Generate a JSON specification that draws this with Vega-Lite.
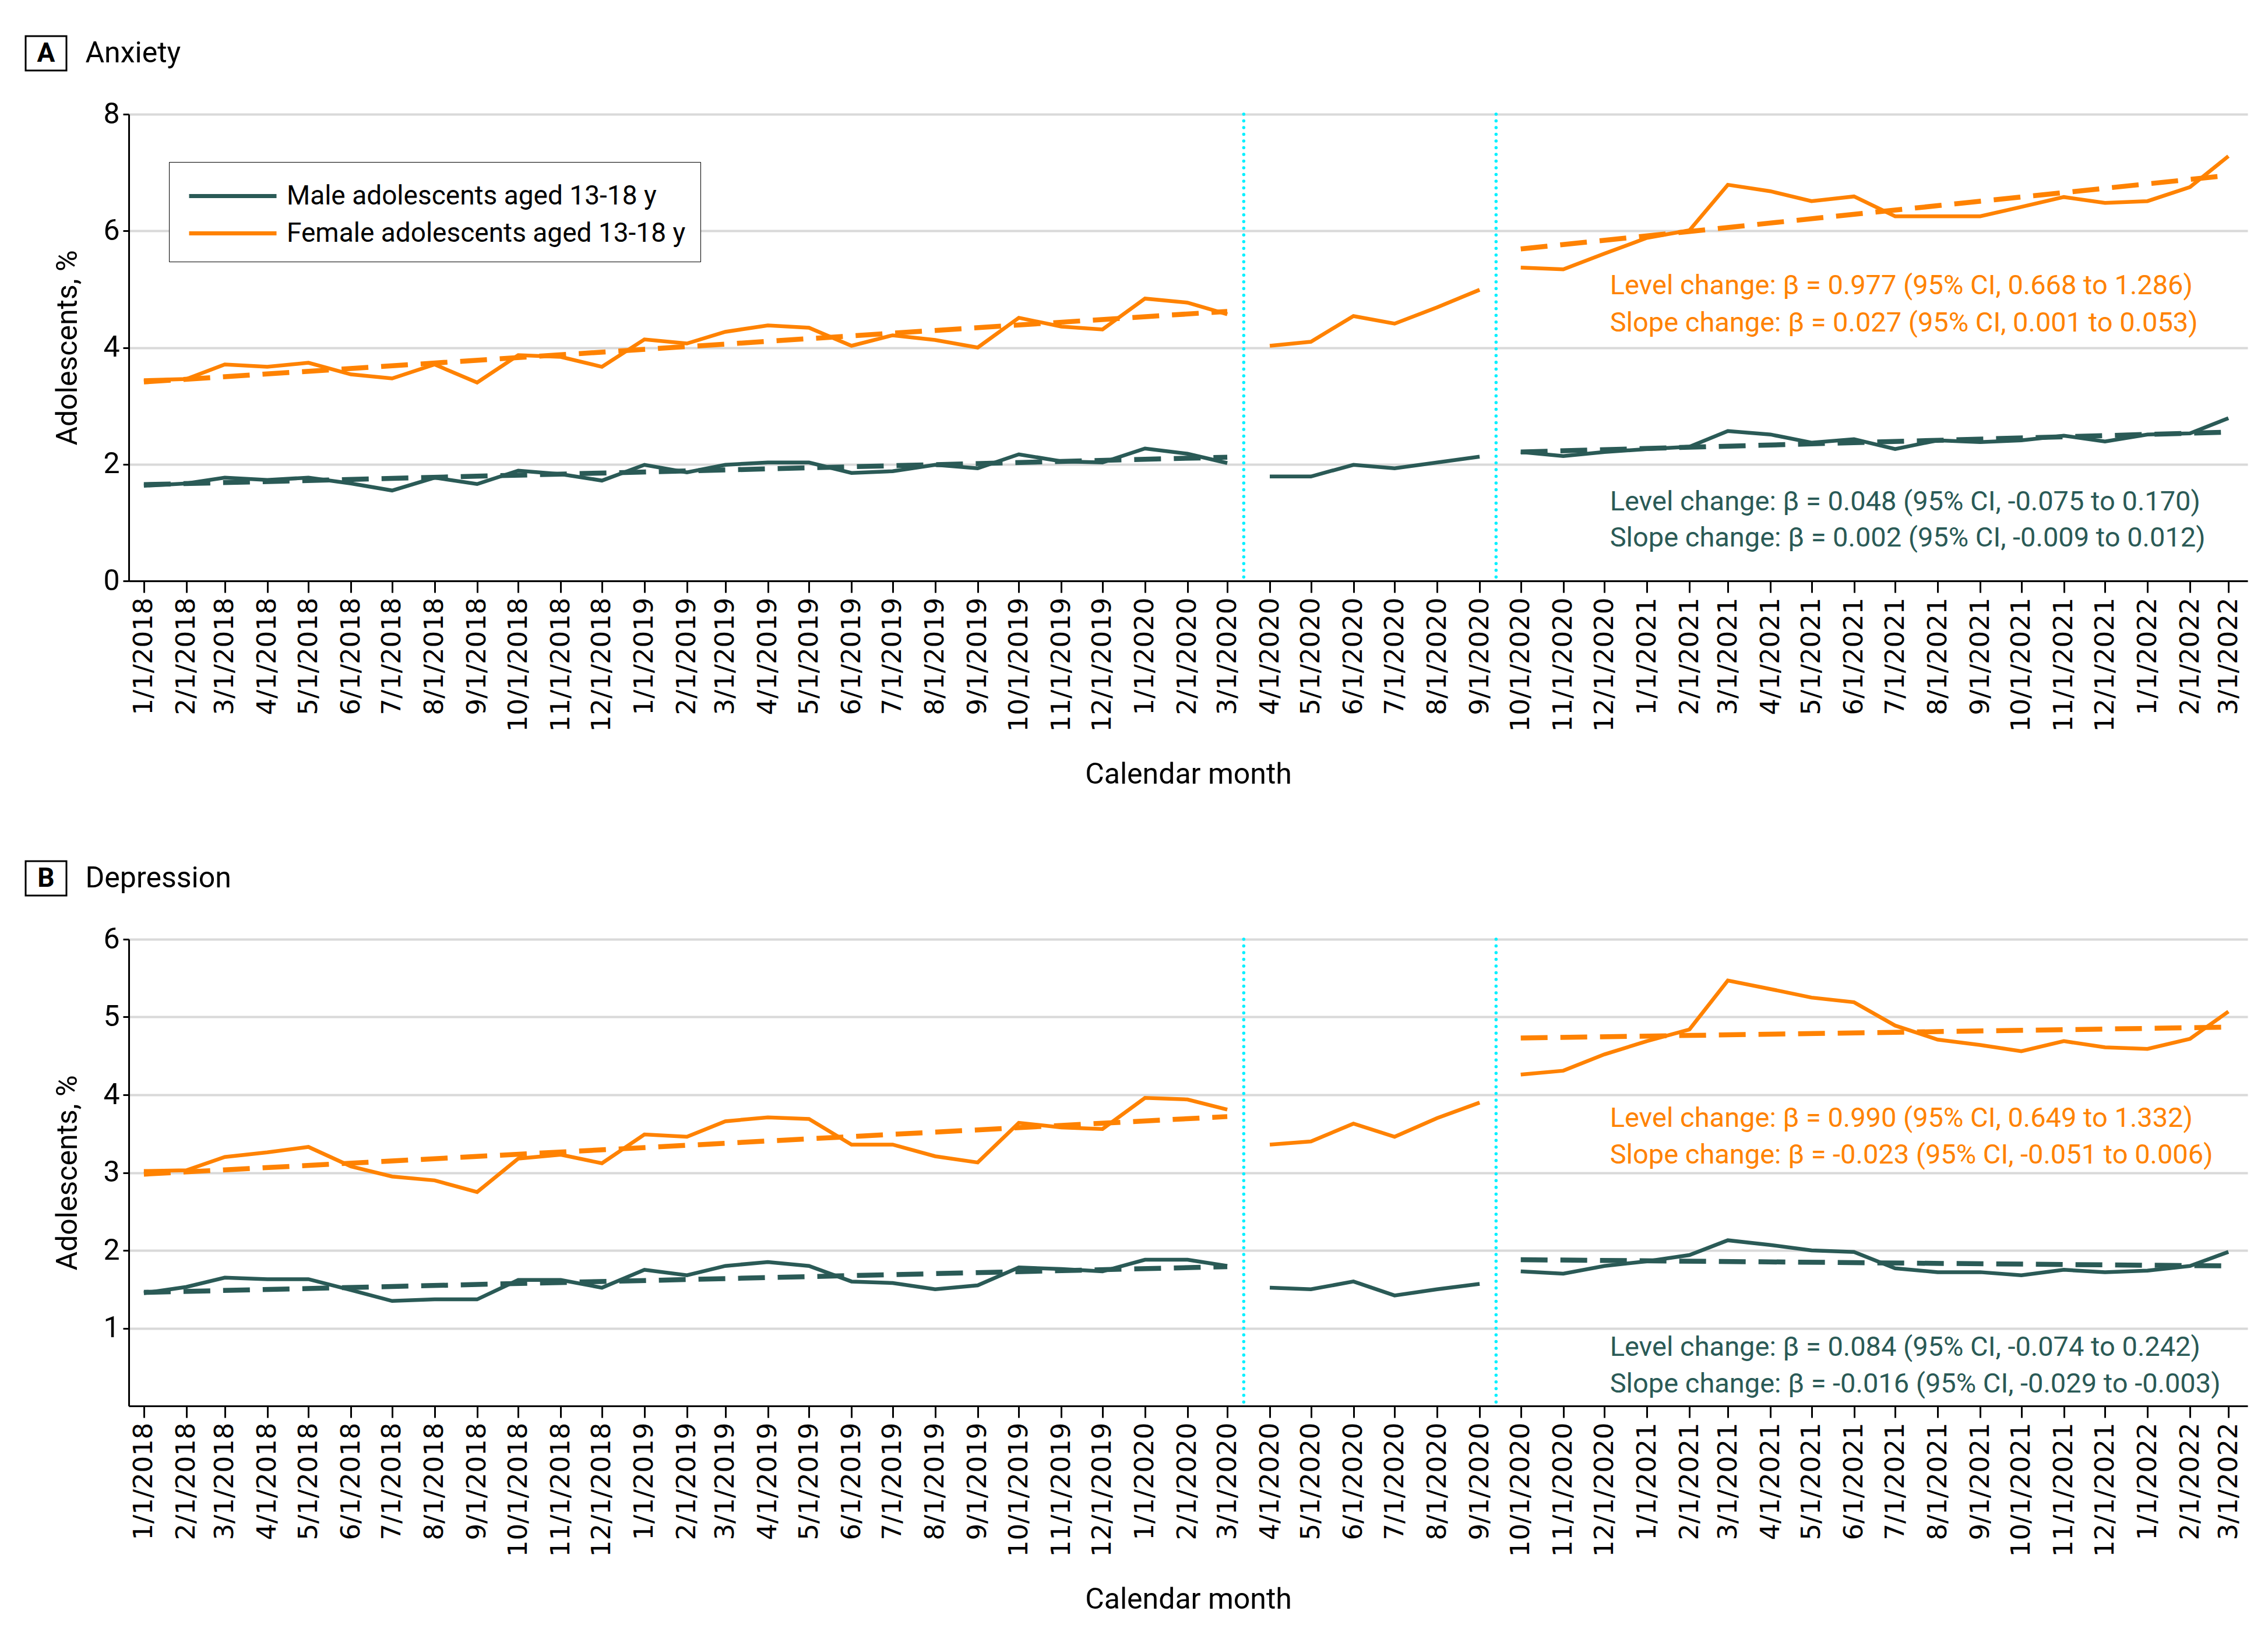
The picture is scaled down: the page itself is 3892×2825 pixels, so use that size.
{
  "$schema": "https://vega.github.io/schema/vega-lite/v6.json",
  "background": "white",
  "padding": {"left": 42, "top": 60, "right": 40, "bottom": 40},
  "config": {
    "view": {"stroke": null},
    "font": "Roboto",
    "axis": {
      "domainColor": "black", "domainWidth": 3, "tickColor": "black", "tickWidth": 3,
      "labelColor": "black", "titleColor": "black", "titleFontWeight": "normal",
      "labelFont": "Roboto", "titleFont": "Roboto",
      "titleFontSize": 50, "labelFontSize": 50, "labelLimit": 1000
    },
    "axisX": {
      "grid": false, "tickSize": 20, "labelFont": "DejaVu Sans", "labelFontSize": 45,
      "labelAngle": 270, "labelPadding": 8, "titlePadding": 107, "labelOverlap": false, "labelFlush": false
    },
    "axisY": {"grid": true, "gridColor": "#d9d9d9", "gridWidth": 4, "tickSize": 10, "labelPadding": 6, "titlePadding": 35},
    "text": {"font": "Roboto", "color": "black"}
  },
  "datasets": {
    "anxiety": [
      {"month": "2018-01-01", "period": "pre", "male": 1.63, "female": 3.44},
      {"month": "2018-02-01", "period": "pre", "male": 1.67, "female": 3.46},
      {"month": "2018-03-01", "period": "pre", "male": 1.77, "female": 3.71},
      {"month": "2018-04-01", "period": "pre", "male": 1.73, "female": 3.67},
      {"month": "2018-05-01", "period": "pre", "male": 1.77, "female": 3.74},
      {"month": "2018-06-01", "period": "pre", "male": 1.67, "female": 3.54},
      {"month": "2018-07-01", "period": "pre", "male": 1.55, "female": 3.47},
      {"month": "2018-08-01", "period": "pre", "male": 1.77, "female": 3.71},
      {"month": "2018-09-01", "period": "pre", "male": 1.66, "female": 3.40},
      {"month": "2018-10-01", "period": "pre", "male": 1.89, "female": 3.87},
      {"month": "2018-11-01", "period": "pre", "male": 1.83, "female": 3.84},
      {"month": "2018-12-01", "period": "pre", "male": 1.72, "female": 3.67},
      {"month": "2019-01-01", "period": "pre", "male": 1.99, "female": 4.14},
      {"month": "2019-02-01", "period": "pre", "male": 1.86, "female": 4.07},
      {"month": "2019-03-01", "period": "pre", "male": 1.99, "female": 4.27},
      {"month": "2019-04-01", "period": "pre", "male": 2.03, "female": 4.38},
      {"month": "2019-05-01", "period": "pre", "male": 2.03, "female": 4.34},
      {"month": "2019-06-01", "period": "pre", "male": 1.85, "female": 4.03},
      {"month": "2019-07-01", "period": "pre", "male": 1.88, "female": 4.21},
      {"month": "2019-08-01", "period": "pre", "male": 1.99, "female": 4.13},
      {"month": "2019-09-01", "period": "pre", "male": 1.93, "female": 4.00},
      {"month": "2019-10-01", "period": "pre", "male": 2.17, "female": 4.51},
      {"month": "2019-11-01", "period": "pre", "male": 2.05, "female": 4.36},
      {"month": "2019-12-01", "period": "pre", "male": 2.03, "female": 4.31},
      {"month": "2020-01-01", "period": "pre", "male": 2.27, "female": 4.84},
      {"month": "2020-02-01", "period": "pre", "male": 2.18, "female": 4.77},
      {"month": "2020-03-01", "period": "pre", "male": 2.02, "female": 4.57},
      {"month": "2020-04-01", "period": "transition", "male": 1.79, "female": 4.03},
      {"month": "2020-05-01", "period": "transition", "male": 1.79, "female": 4.10},
      {"month": "2020-06-01", "period": "transition", "male": 1.99, "female": 4.54},
      {"month": "2020-07-01", "period": "transition", "male": 1.93, "female": 4.41},
      {"month": "2020-08-01", "period": "transition", "male": 2.03, "female": 4.69},
      {"month": "2020-09-01", "period": "transition", "male": 2.13, "female": 4.99},
      {"month": "2020-10-01", "period": "post", "male": 2.21, "female": 5.37},
      {"month": "2020-11-01", "period": "post", "male": 2.14, "female": 5.34},
      {"month": "2020-12-01", "period": "post", "male": 2.21, "female": 5.61},
      {"month": "2021-01-01", "period": "post", "male": 2.26, "female": 5.88},
      {"month": "2021-02-01", "period": "post", "male": 2.30, "female": 6.01},
      {"month": "2021-03-01", "period": "post", "male": 2.57, "female": 6.79},
      {"month": "2021-04-01", "period": "post", "male": 2.51, "female": 6.68},
      {"month": "2021-05-01", "period": "post", "male": 2.37, "female": 6.51},
      {"month": "2021-06-01", "period": "post", "male": 2.43, "female": 6.59},
      {"month": "2021-07-01", "period": "post", "male": 2.26, "female": 6.25},
      {"month": "2021-08-01", "period": "post", "male": 2.41, "female": 6.25},
      {"month": "2021-09-01", "period": "post", "male": 2.38, "female": 6.25},
      {"month": "2021-10-01", "period": "post", "male": 2.41, "female": 6.41},
      {"month": "2021-11-01", "period": "post", "male": 2.49, "female": 6.58},
      {"month": "2021-12-01", "period": "post", "male": 2.39, "female": 6.48},
      {"month": "2022-01-01", "period": "post", "male": 2.51, "female": 6.51},
      {"month": "2022-02-01", "period": "post", "male": 2.53, "female": 6.75},
      {"month": "2022-03-01", "period": "post", "male": 2.79, "female": 7.28}
    ],
    "depression": [
      {"month": "2018-01-01", "period": "pre", "male": 1.45, "female": 3.02},
      {"month": "2018-02-01", "period": "pre", "male": 1.53, "female": 3.03},
      {"month": "2018-03-01", "period": "pre", "male": 1.65, "female": 3.20},
      {"month": "2018-04-01", "period": "pre", "male": 1.63, "female": 3.26},
      {"month": "2018-05-01", "period": "pre", "male": 1.63, "female": 3.33},
      {"month": "2018-06-01", "period": "pre", "male": 1.49, "female": 3.08},
      {"month": "2018-07-01", "period": "pre", "male": 1.35, "female": 2.95},
      {"month": "2018-08-01", "period": "pre", "male": 1.37, "female": 2.90},
      {"month": "2018-09-01", "period": "pre", "male": 1.37, "female": 2.75},
      {"month": "2018-10-01", "period": "pre", "male": 1.62, "female": 3.18},
      {"month": "2018-11-01", "period": "pre", "male": 1.62, "female": 3.23},
      {"month": "2018-12-01", "period": "pre", "male": 1.52, "female": 3.12},
      {"month": "2019-01-01", "period": "pre", "male": 1.75, "female": 3.49},
      {"month": "2019-02-01", "period": "pre", "male": 1.68, "female": 3.46},
      {"month": "2019-03-01", "period": "pre", "male": 1.80, "female": 3.66},
      {"month": "2019-04-01", "period": "pre", "male": 1.85, "female": 3.71},
      {"month": "2019-05-01", "period": "pre", "male": 1.80, "female": 3.69},
      {"month": "2019-06-01", "period": "pre", "male": 1.60, "female": 3.36},
      {"month": "2019-07-01", "period": "pre", "male": 1.58, "female": 3.36},
      {"month": "2019-08-01", "period": "pre", "male": 1.50, "female": 3.21},
      {"month": "2019-09-01", "period": "pre", "male": 1.55, "female": 3.13},
      {"month": "2019-10-01", "period": "pre", "male": 1.78, "female": 3.64},
      {"month": "2019-11-01", "period": "pre", "male": 1.76, "female": 3.58},
      {"month": "2019-12-01", "period": "pre", "male": 1.73, "female": 3.56},
      {"month": "2020-01-01", "period": "pre", "male": 1.88, "female": 3.96},
      {"month": "2020-02-01", "period": "pre", "male": 1.88, "female": 3.94},
      {"month": "2020-03-01", "period": "pre", "male": 1.80, "female": 3.81},
      {"month": "2020-04-01", "period": "transition", "male": 1.52, "female": 3.36},
      {"month": "2020-05-01", "period": "transition", "male": 1.50, "female": 3.40},
      {"month": "2020-06-01", "period": "transition", "male": 1.60, "female": 3.63},
      {"month": "2020-07-01", "period": "transition", "male": 1.42, "female": 3.46},
      {"month": "2020-08-01", "period": "transition", "male": 1.50, "female": 3.70},
      {"month": "2020-09-01", "period": "transition", "male": 1.57, "female": 3.90},
      {"month": "2020-10-01", "period": "post", "male": 1.73, "female": 4.26},
      {"month": "2020-11-01", "period": "post", "male": 1.70, "female": 4.31},
      {"month": "2020-12-01", "period": "post", "male": 1.80, "female": 4.52},
      {"month": "2021-01-01", "period": "post", "male": 1.86, "female": 4.69},
      {"month": "2021-02-01", "period": "post", "male": 1.94, "female": 4.84},
      {"month": "2021-03-01", "period": "post", "male": 2.13, "female": 5.47},
      {"month": "2021-04-01", "period": "post", "male": 2.07, "female": 5.36},
      {"month": "2021-05-01", "period": "post", "male": 2.00, "female": 5.25},
      {"month": "2021-06-01", "period": "post", "male": 1.98, "female": 5.19},
      {"month": "2021-07-01", "period": "post", "male": 1.77, "female": 4.89},
      {"month": "2021-08-01", "period": "post", "male": 1.72, "female": 4.71},
      {"month": "2021-09-01", "period": "post", "male": 1.72, "female": 4.64},
      {"month": "2021-10-01", "period": "post", "male": 1.68, "female": 4.56},
      {"month": "2021-11-01", "period": "post", "male": 1.75, "female": 4.69},
      {"month": "2021-12-01", "period": "post", "male": 1.72, "female": 4.61},
      {"month": "2022-01-01", "period": "post", "male": 1.74, "female": 4.59},
      {"month": "2022-02-01", "period": "post", "male": 1.80, "female": 4.72},
      {"month": "2022-03-01", "period": "post", "male": 1.98, "female": 5.07}
    ],
    "trend": [
      {"outcome": "Anxiety", "period": "pre", "month": "2018-01-01", "male": 1.65, "female": 3.41},
      {"outcome": "Anxiety", "period": "pre", "month": "2020-03-01", "male": 2.12, "female": 4.62},
      {"outcome": "Anxiety", "period": "post", "month": "2020-10-01", "male": 2.21, "female": 5.69},
      {"outcome": "Anxiety", "period": "post", "month": "2022-03-01", "male": 2.55, "female": 6.95},
      {"outcome": "Depression", "period": "pre", "month": "2018-01-01", "male": 1.46, "female": 2.98},
      {"outcome": "Depression", "period": "pre", "month": "2020-03-01", "male": 1.79, "female": 3.72},
      {"outcome": "Depression", "period": "post", "month": "2020-10-01", "male": 1.88, "female": 4.73},
      {"outcome": "Depression", "period": "post", "month": "2022-03-01", "male": 1.80, "female": 4.87}
    ],
    "notes": [
      {"outcome": "Anxiety", "sex": "female", "month": "2020-12-05", "value": 5.05, "label": "Level change: β = 0.977 (95% CI, 0.668 to 1.286)"},
      {"outcome": "Anxiety", "sex": "female", "month": "2020-12-05", "value": 4.41, "label": "Slope change: β = 0.027 (95% CI, 0.001 to 0.053)"},
      {"outcome": "Anxiety", "sex": "male", "month": "2020-12-05", "value": 1.35, "label": "Level change: β = 0.048 (95% CI, -0.075 to 0.170)"},
      {"outcome": "Anxiety", "sex": "male", "month": "2020-12-05", "value": 0.73, "label": "Slope change: β = 0.002 (95% CI, -0.009 to 0.012)"},
      {"outcome": "Depression", "sex": "female", "month": "2020-12-05", "value": 3.69, "label": "Level change: β = 0.990 (95% CI, 0.649 to 1.332)"},
      {"outcome": "Depression", "sex": "female", "month": "2020-12-05", "value": 3.22, "label": "Slope change: β = -0.023 (95% CI, -0.051 to 0.006)"},
      {"outcome": "Depression", "sex": "male", "month": "2020-12-05", "value": 0.75, "label": "Level change: β = 0.084 (95% CI, -0.074 to 0.242)"},
      {"outcome": "Depression", "sex": "male", "month": "2020-12-05", "value": 0.28, "label": "Slope change: β = -0.016 (95% CI, -0.029 to -0.003)"}
    ],
    "breaks": [
      {"month": "2020-03-13", "event": "start"},
      {"month": "2020-09-13", "event": "end"}
    ]
  },
  "resolve": {"scale": {"color": "independent"}, "legend": {"color": "independent"}},
  "spacing": 122,
  "vconcat": [
    {
      "resolve": {"scale": {"color": "independent"}, "legend": {"color": "independent"}},
      "spacing": 48,
      "vconcat": [
        {
          "spacing": 30,
          "hconcat": [
            {
              "width": 70, "height": 59,
              "view": {"stroke": "black", "strokeWidth": 3, "fill": "white"},
              "data": {"values": [{"t": "A"}]},
              "mark": {"type": "text", "fontSize": 46, "fontWeight": "bold"},
              "encoding": {"text": {"field": "t"}}
            },
            {
              "width": 1, "height": 59,
              "data": {"values": [{"t": "Anxiety"}]},
              "mark": {"type": "text", "fontSize": 50, "align": "left"},
              "encoding": {"text": {"field": "t"}}
            }
          ]
        },
        {
          "resolve": {"scale": {"color": "independent"}, "legend": {"color": "independent"}},
          "spacing": 0,
          "hconcat": [
            {
              "width": 1, "height": 1,
              "data": {"values": []},
              "mark": "point"
            },
            {
              "width": 3636, "height": 801,
              "encoding": {
                "x": {
                  "field": "month", "type": "temporal",
                  "scale": {"type": "utc", "nice": false, "domain": [{"year": 2017, "month": 12, "date": 21, "utc": true}, {"year": 2022, "month": 3, "date": 15, "utc": true}]},
                  "axis": {"title": "Calendar month", "tickCount": "month", "labelExpr": "utcFormat(datum.value, '%-m/%-d/%Y')"}
                }
              },
              "layer": [
                {
                  "data": {"name": "breaks"},
                  "mark": {"type": "rule", "color": "#00f0ff", "strokeWidth": 5.5, "strokeDash": [0.01, 11.5], "strokeCap": "round"},
                  "encoding": {}
                },
                {
                  "encoding": {
                    "y": {"field": "value", "type": "quantitative", "scale": {"domain": [0, 8], "nice": false},
                          "axis": {"values": [0, 2, 4, 6, 8], "title": ["", "Adolescents, %"], "titleLineHeight": 46}}
                  },
                  "layer": [
                    {
                      "data": {"name": "anxiety"},
                      "transform": [{"fold": ["male", "female"], "as": ["sex", "value"]}],
                      "mark": {"type": "line", "strokeWidth": 6.5},
                      "encoding": {
                        "color": {"field": "sex", "type": "nominal",
                          "scale": {"domain": ["male", "female"], "range": ["#2a5a56", "#ff8200"]},
                          "legend": {"orient": "none", "legendX": 69, "legendY": 82, "title": null,
                            "symbolType": "M-0.8,0H4.2", "symbolSize": 3600, "symbolStrokeWidth": 7,
                            "labelFontSize": 46, "labelFont": "Roboto", "labelColor": "black", "labelLimit": 1000, "labelOffset": 110, "padding": 25, "rowPadding": 7,
                            "strokeColor": "black", "fillColor": "white",
                            "labelExpr": "datum.label == 'male' ? 'Male adolescents aged 13-18 y' : 'Female adolescents aged 13-18 y'"}},
                        "detail": {"field": "period"}
                      }
                    },
                    {
                      "data": {"name": "trend"},
                      "transform": [{"filter": "datum.outcome == 'Anxiety'"}, {"fold": ["male", "female"], "as": ["sex", "value"]}],
                      "mark": {"type": "line", "strokeWidth": 8.5, "strokeDash": [46, 22]},
                      "encoding": {
                        "color": {"field": "sex", "type": "nominal", "legend": null},
                        "detail": {"field": "period"}
                      }
                    },
                    {
                      "data": {"name": "notes"},
                      "transform": [{"filter": "datum.outcome == 'Anxiety'"}],
                      "mark": {"type": "text", "align": "left", "baseline": "middle", "fontSize": 47},
                      "encoding": {
                        "color": {"field": "sex", "type": "nominal", "legend": null},
                        "text": {"field": "label"}
                      }
                    }
                  ]
                }
              ]
            }
          ]
        }
      ]
    },
    {
      "resolve": {"scale": {"color": "independent"}, "legend": {"color": "independent"}},
      "spacing": 48,
      "vconcat": [
        {
          "spacing": 30,
          "hconcat": [
            {
              "width": 70, "height": 59,
              "view": {"stroke": "black", "strokeWidth": 3, "fill": "white"},
              "data": {"values": [{"t": "B"}]},
              "mark": {"type": "text", "fontSize": 46, "fontWeight": "bold"},
              "encoding": {"text": {"field": "t"}}
            },
            {
              "width": 1, "height": 59,
              "data": {"values": [{"t": "Depression"}]},
              "mark": {"type": "text", "fontSize": 50, "align": "left"},
              "encoding": {"text": {"field": "t"}}
            }
          ]
        },
        {
          "resolve": {"scale": {"color": "independent"}, "legend": {"color": "independent"}},
          "spacing": 0,
          "hconcat": [
            {
              "width": 1, "height": 1,
              "data": {"values": []},
              "mark": "point"
            },
            {
              "width": 3636, "height": 801,
              "encoding": {
                "x": {
                  "field": "month", "type": "temporal",
                  "scale": {"type": "utc", "nice": false, "domain": [{"year": 2017, "month": 12, "date": 21, "utc": true}, {"year": 2022, "month": 3, "date": 15, "utc": true}]},
                  "axis": {"title": "Calendar month", "tickCount": "month", "labelExpr": "utcFormat(datum.value, '%-m/%-d/%Y')"}
                }
              },
              "layer": [
                {
                  "data": {"name": "breaks"},
                  "mark": {"type": "rule", "color": "#00f0ff", "strokeWidth": 5.5, "strokeDash": [0.01, 11.5], "strokeCap": "round"},
                  "encoding": {}
                },
                {
                  "encoding": {
                    "y": {"field": "value", "type": "quantitative", "scale": {"domain": [0, 6], "nice": false},
                          "axis": {"values": [1, 2, 3, 4, 5, 6], "title": ["", "Adolescents, %"], "titleLineHeight": 46}}
                  },
                  "layer": [
                    {
                      "data": {"name": "depression"},
                      "transform": [{"fold": ["male", "female"], "as": ["sex", "value"]}],
                      "mark": {"type": "line", "strokeWidth": 6.5},
                      "encoding": {
                        "color": {"field": "sex", "type": "nominal",
                          "scale": {"domain": ["male", "female"], "range": ["#2a5a56", "#ff8200"]},
                          "legend": null},
                        "detail": {"field": "period"}
                      }
                    },
                    {
                      "data": {"name": "trend"},
                      "transform": [{"filter": "datum.outcome == 'Depression'"}, {"fold": ["male", "female"], "as": ["sex", "value"]}],
                      "mark": {"type": "line", "strokeWidth": 8.5, "strokeDash": [46, 22]},
                      "encoding": {
                        "color": {"field": "sex", "type": "nominal", "legend": null},
                        "detail": {"field": "period"}
                      }
                    },
                    {
                      "data": {"name": "notes"},
                      "transform": [{"filter": "datum.outcome == 'Depression'"}],
                      "mark": {"type": "text", "align": "left", "baseline": "middle", "fontSize": 47},
                      "encoding": {
                        "color": {"field": "sex", "type": "nominal", "legend": null},
                        "text": {"field": "label"}
                      }
                    }
                  ]
                }
              ]
            }
          ]
        }
      ]
    }
  ]
}
